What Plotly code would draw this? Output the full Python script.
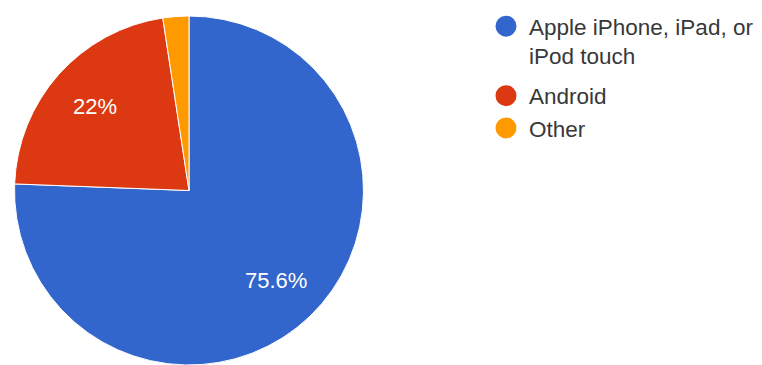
import math
import plotly.graph_objects as go

categories = ["Apple iPhone, iPad, or iPod touch", "Android", "Other"]
legend_names = ["Apple iPhone, iPad, or<br>iPod touch", "Android", "Other"]
shares = [75.6, 22, 2.4]
colors = ["#3366CC", "#DC3912", "#FF9900"]

labels_text = [f"{v:g}%" if v >= 5 else "" for v in shares]

FONT = "Arial, Liberation Sans, sans-serif"
W, H = 762, 365
dom_x = [14.5 / W, 363.5 / W]
dom_y = [0, 1 - 16 / H]
LABEL_R = 0.72  # fraction of the radius at which slice labels sit

fig = go.Figure()
fig.add_trace(go.Pie(
    labels=categories,
    values=shares,
    textinfo="none",
    marker=dict(colors=colors, line=dict(color="white", width=1)),
    sort=False,
    direction="clockwise",
    rotation=0,
    showlegend=False,
    hoverinfo="label+percent",
    domain=dict(x=dom_x, y=dom_y),
))

# slice labels placed along each slice's mid-angle
cx = (dom_x[0] + dom_x[1]) / 2
cy = (dom_y[0] + dom_y[1]) / 2
r_px = min((dom_x[1] - dom_x[0]) * W, (dom_y[1] - dom_y[0]) * H) / 2
total = sum(shares)
cum = 0.0
for v, t in zip(shares, labels_text):
    mid = (cum + v / 2) / total * 2 * math.pi
    cum += v
    if not t:
        continue
    fig.add_annotation(
        x=cx + LABEL_R * r_px * math.sin(mid) / W,
        y=cy + LABEL_R * r_px * math.cos(mid) / H,
        xref="paper", yref="paper", text=t, showarrow=False,
        xanchor="center", yanchor="middle",
        font=dict(color="white", size=22, family=FONT),
    )

groups = ["a", "b", "b"]
for name, col, g in zip(legend_names, colors, groups):
    fig.add_trace(go.Scatter(
        x=[None], y=[None], mode="markers", name=name,
        legendgroup=g,
        marker=dict(symbol="circle", size=16, color=col, line=dict(color=col, width=5)),
    ))

fig.update_layout(
    width=W, height=H,
    margin=dict(l=0, r=0, t=0, b=0),
    paper_bgcolor="white", plot_bgcolor="white",
    xaxis=dict(visible=False), yaxis=dict(visible=False),
    showlegend=True,
    legend=dict(
        x=483 / W, xanchor="left",
        y=1 - 5 / H, yanchor="top",
        valign="top",
        traceorder="grouped",
        tracegroupgap=8,
        itemwidth=36,
        font=dict(size=22.5, color="#383838", family=FONT),
        bgcolor="rgba(0,0,0,0)",
    ),
)

fig.write_html("out.html")
